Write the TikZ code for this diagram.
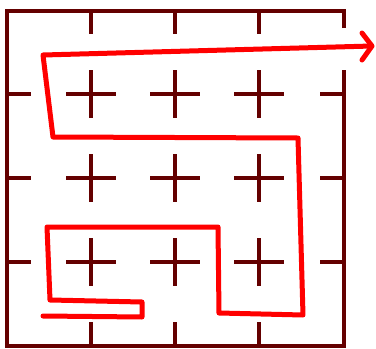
\documentclass[tikz,border=0pt]{standalone}
\definecolor{wall}{RGB}{100,0,0}
\definecolor{pathred}{RGB}{255,0,0}
\tikzset{
  wallline/.style={draw=wall,line width=4pt,line cap=butt},
  route/.style={draw=pathred,line width=5pt,line cap=round,line join=round}
}
\begin{document}
\begin{tikzpicture}[x=1pt,y=-1pt]
\useasboundingbox (0,0) rectangle (376,349);
% border walls
\draw[wallline,line join=miter] (344,28) -- (344,11) -- (7,11) -- (7,346) -- (344,346) -- (344,70);
% interior crosses
\foreach \x in {91,175,259}{
  \foreach \y in {94,178,262}{
    \draw[wallline] (\x-25,\y) -- (\x+25,\y);
    \draw[wallline] (\x,\y-24) -- (\x,\y+24);
  }
}
% border ticks
\foreach \x in {91,175,259}{
  \draw[wallline] (\x,11) -- (\x,34);
  \draw[wallline] (\x,346) -- (\x,322);
}
\foreach \y in {94,178,262}{
  \draw[wallline] (7,\y) -- (31,\y);
  \draw[wallline] (344,\y) -- (320,\y);
}
% route
\coordinate (s) at (43,316);
\coordinate (p1) at (142,317);
\coordinate (p2) at (142,302);
\coordinate (p3) at (50,300);
\coordinate (p4) at (47,227);
\coordinate (p5) at (218,227);
\coordinate (p6) at (219,313);
\coordinate (p7) at (303,315);
\coordinate (p8) at (298,138);
\coordinate (p9) at (53,137);
\coordinate (p10) at (43,55);
\coordinate (e) at (372,46);
\draw[route] (s) -- (p1) -- (p2) -- (p3) -- (p4) -- (p5) -- (p6) -- (p7) -- (p8) -- (p9) -- (p10) -- (e);
\coordinate (h1) at (362,33);
\coordinate (h2) at (362,60);
\draw[route] (h1) -- (e) -- (h2);
\end{tikzpicture}
\end{document}
